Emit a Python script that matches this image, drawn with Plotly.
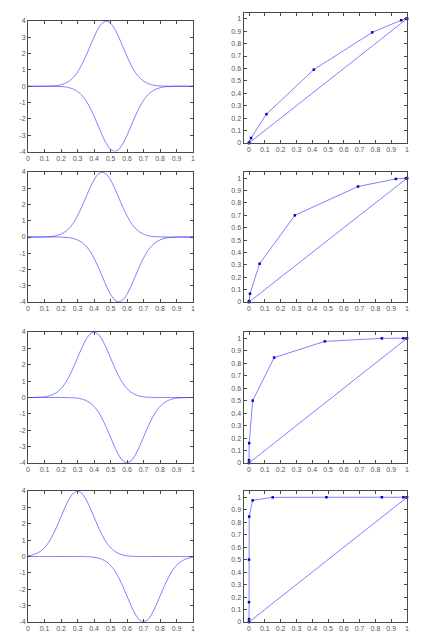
import plotly.graph_objects as go

# ---------------- data ----------------
x_grid = [0, 0.025, 0.05, 0.075, 0.1, 0.125, 0.15, 0.175, 0.2, 0.225, 0.25, 0.275, 0.3,
          0.325, 0.35, 0.375, 0.4, 0.425, 0.45, 0.475, 0.5, 0.525, 0.55, 0.575, 0.6,
          0.625, 0.65, 0.675, 0.7, 0.725, 0.75, 0.775, 0.8, 0.825, 0.85, 0.875, 0.9,
          0.925, 0.95, 0.975, 1]

# row 1 (peaks near 0.475 / 0.525)
pos1 = [0, 0, 0, 0, 0, 0.01, 0.02, 0.04, 0.09, 0.18, 0.32, 0.54, 0.86, 1.30, 1.83, 2.42, 3.01,
        3.52, 3.87, 3.99, 3.87, 3.52, 3.01, 2.42, 1.83, 1.30, 0.86, 0.54, 0.32, 0.18, 0.09,
        0.04, 0.02, 0.01, 0, 0, 0, 0, 0, 0, 0]
neg1 = [0, 0, 0, 0, 0, 0, 0, -0.01, -0.02, -0.04, -0.09, -0.18, -0.32, -0.54, -0.86, -1.30,
        -1.83, -2.42, -3.01, -3.52, -3.87, -3.99, -3.87, -3.52, -3.01, -2.42, -1.83, -1.30,
        -0.86, -0.54, -0.32, -0.18, -0.09, -0.04, -0.02, -0.01, 0, 0, 0, 0, 0]
# row 2 (peaks near 0.45 / 0.55)
pos2 = [0, 0, 0, 0, 0.01, 0.02, 0.04, 0.09, 0.18, 0.32, 0.54, 0.86, 1.30, 1.83, 2.42, 3.01,
        3.52, 3.87, 3.99, 3.87, 3.52, 3.01, 2.42, 1.83, 1.30, 0.86, 0.54, 0.32, 0.18, 0.09,
        0.04, 0.02, 0.01, 0, 0, 0, 0, 0, 0, 0, 0]
neg2 = [0, 0, 0, 0, 0, 0, 0, 0, -0.01, -0.02, -0.04, -0.09, -0.18, -0.32, -0.54, -0.86, -1.30,
        -1.83, -2.42, -3.01, -3.52, -3.87, -3.99, -3.87, -3.52, -3.01, -2.42, -1.83, -1.30,
        -0.86, -0.54, -0.32, -0.18, -0.09, -0.04, -0.02, -0.01, 0, 0, 0, 0]
# row 3 (peaks near 0.4 / 0.6)
pos3 = [0, 0, 0.01, 0.02, 0.04, 0.09, 0.18, 0.32, 0.54, 0.86, 1.30, 1.83, 2.42, 3.01, 3.52,
        3.87, 3.99, 3.87, 3.52, 3.01, 2.42, 1.83, 1.30, 0.86, 0.54, 0.32, 0.18, 0.09, 0.04,
        0.02, 0.01, 0, 0, 0, 0, 0, 0, 0, 0, 0, 0]
neg3 = [0, 0, 0, 0, 0, 0, 0, 0, 0, 0, -0.01, -0.02, -0.04, -0.09, -0.18, -0.32, -0.54, -0.86,
        -1.30, -1.83, -2.42, -3.01, -3.52, -3.87, -3.99, -3.87, -3.52, -3.01, -2.42, -1.83,
        -1.30, -0.86, -0.54, -0.32, -0.18, -0.09, -0.04, -0.02, -0.01, 0, 0]
# row 4 (peaks near 0.3 / 0.7)
pos4 = [0.04, 0.09, 0.18, 0.32, 0.54, 0.86, 1.30, 1.83, 2.42, 3.01, 3.52, 3.87, 3.99, 3.87,
        3.52, 3.01, 2.42, 1.83, 1.30, 0.86, 0.54, 0.32, 0.18, 0.09, 0.04, 0.02, 0.01, 0, 0, 0,
        0, 0, 0, 0, 0, 0, 0, 0, 0, 0, 0]
neg4 = [0, 0, 0, 0, 0, 0, 0, 0, 0, 0, 0, 0, 0, 0, -0.01, -0.02, -0.04, -0.09, -0.18, -0.32,
        -0.54, -0.86, -1.30, -1.83, -2.42, -3.01, -3.52, -3.87, -3.99, -3.87, -3.52, -3.01,
        -2.42, -1.83, -1.30, -0.86, -0.54, -0.32, -0.18, -0.09, -0.04]

# ROC curves (false positive rate, true positive rate)
fpr1 = [0, 0, 0, 0.013, 0.11, 0.41, 0.78, 0.963, 0.999, 1, 1]
tpr1 = [0, 0, 0.003, 0.04, 0.232, 0.59, 0.89, 0.988, 1.0, 1, 1]
fpr2 = [0, 0, 0, 0.006, 0.067, 0.29, 0.69, 0.93, 0.994, 1, 1]
tpr2 = [0, 0, 0.006, 0.067, 0.309, 0.70, 0.933, 0.994, 1.0, 1, 1]
fpr3 = [0, 0, 0, 0.001, 0.023, 0.159, 0.48, 0.841, 0.977, 0.999, 1]
tpr3 = [0, 0.001, 0.023, 0.159, 0.5, 0.845, 0.975, 0.999, 1, 1, 1]
fpr4 = [0, 0, 0, 0, 0, 0.001, 0.023, 0.15, 0.49, 0.841, 0.977, 0.999, 1]
tpr4 = [0, 0.001, 0.023, 0.159, 0.5, 0.845, 0.975, 0.999, 1, 1, 1, 1, 1]

diag_x = [0, 1]
diag_y = [0, 1]

x_tick_vals = [0, 0.1, 0.2, 0.3, 0.4, 0.5, 0.6, 0.7, 0.8, 0.9, 1]
x_tick_text = ["0", "0.1", "0.2", "0.3", "0.4", "0.5", "0.6", "0.7", "0.8", "0.9", "1"]
left_y_vals = [-4, -3, -2, -1, 0, 1, 2, 3, 4]
left_y_text = ["-4", "-3", "-2", "-1", "0", "1", "2", "3", "4"]
right_y_vals = [0, 0.1, 0.2, 0.3, 0.4, 0.5, 0.6, 0.7, 0.8, 0.9, 1]
right_y_text = ["0", "0.1", "0.2", "0.3", "0.4", "0.5", "0.6", "0.7", "0.8", "0.9", "1"]

densities = [(pos1, neg1), (pos2, neg2), (pos3, neg3), (pos4, neg4)]
rocs = [(fpr1, tpr1), (fpr2, tpr2), (fpr3, tpr3), (fpr4, tpr4)]

# ---------------- style / layout ----------------
W, H = 427, 640
LINE = "rgba(0,0,255,0.5)"
MARK = "#0000c8"
FRAME = "#4a4a4a"

left_x = [28 / W, 193 / W]
right_x = [243.5 / W, 407 / W]
left_rows = [(21, 151.5), (172, 302), (332, 463), (491, 622)]
right_rows = [(12.5, 143), (172, 302), (332, 463), (491, 622)]


def ydom(top, bottom):
    return [1 - bottom / H, 1 - top / H]


fig = go.Figure()
axis_common = dict(
    showline=True, linecolor=FRAME, linewidth=1, mirror="allticks",
    ticks="inside", ticklen=3, tickcolor=FRAME, tickwidth=1,
    showgrid=False, zeroline=False, fixedrange=True, automargin=False,
    tickfont=dict(size=7, color="#555", family="Liberation Sans"),
)

layout = {}
for r in range(4):
    nl = 2 * r + 1
    nr = 2 * r + 2
    pos, neg = densities[r]
    fpr, tpr = rocs[r]
    xl = "x" if nl == 1 else f"x{nl}"
    yl = "y" if nl == 1 else f"y{nl}"
    xr = f"x{nr}"
    yr = f"y{nr}"
    for ys in (pos, neg):
        fig.add_trace(go.Scatter(x=x_grid, y=ys, mode="lines", xaxis=xl, yaxis=yl,
                                 line=dict(color=LINE, width=1, shape="spline", smoothing=0.6),
                                 hoverinfo="skip"))
    fig.add_trace(go.Scatter(x=diag_x, y=diag_y, mode="lines", xaxis=xr, yaxis=yr,
                             line=dict(color=LINE, width=1), hoverinfo="skip"))
    fig.add_trace(go.Scatter(x=fpr, y=tpr, mode="lines+markers", xaxis=xr, yaxis=yr,
                             line=dict(color=LINE, width=1),
                             marker=dict(color=MARK, size=2.5, symbol="square"),
                             cliponaxis=False, hoverinfo="skip"))

    lx_key = "xaxis" if nl == 1 else f"xaxis{nl}"
    ly_key = "yaxis" if nl == 1 else f"yaxis{nl}"
    layout[lx_key] = dict(axis_common, domain=left_x, anchor=yl, range=[0, 1],
                          tickvals=x_tick_vals, ticktext=x_tick_text)
    layout[ly_key] = dict(axis_common, domain=ydom(*left_rows[r]), anchor=xl, range=[-4, 4],
                          tickvals=left_y_vals, ticktext=left_y_text)
    layout[f"xaxis{nr}"] = dict(axis_common, domain=right_x, anchor=yr, range=[-0.035, 1],
                                tickvals=x_tick_vals, ticktext=x_tick_text)
    layout[f"yaxis{nr}"] = dict(axis_common, domain=ydom(*right_rows[r]), anchor=xr,
                                range=[0, 1.05], tickvals=right_y_vals, ticktext=right_y_text)

fig.update_layout(
    width=W, height=H, margin=dict(l=0, r=0, t=0, b=0),
    paper_bgcolor="white", plot_bgcolor="white", showlegend=False,
    **layout,
)

fig.write_html("out.html", config={"displayModeBar": False, "staticPlot": True},
               post_script="document.body.style.margin='0px';document.body.style.overflow='hidden';")
